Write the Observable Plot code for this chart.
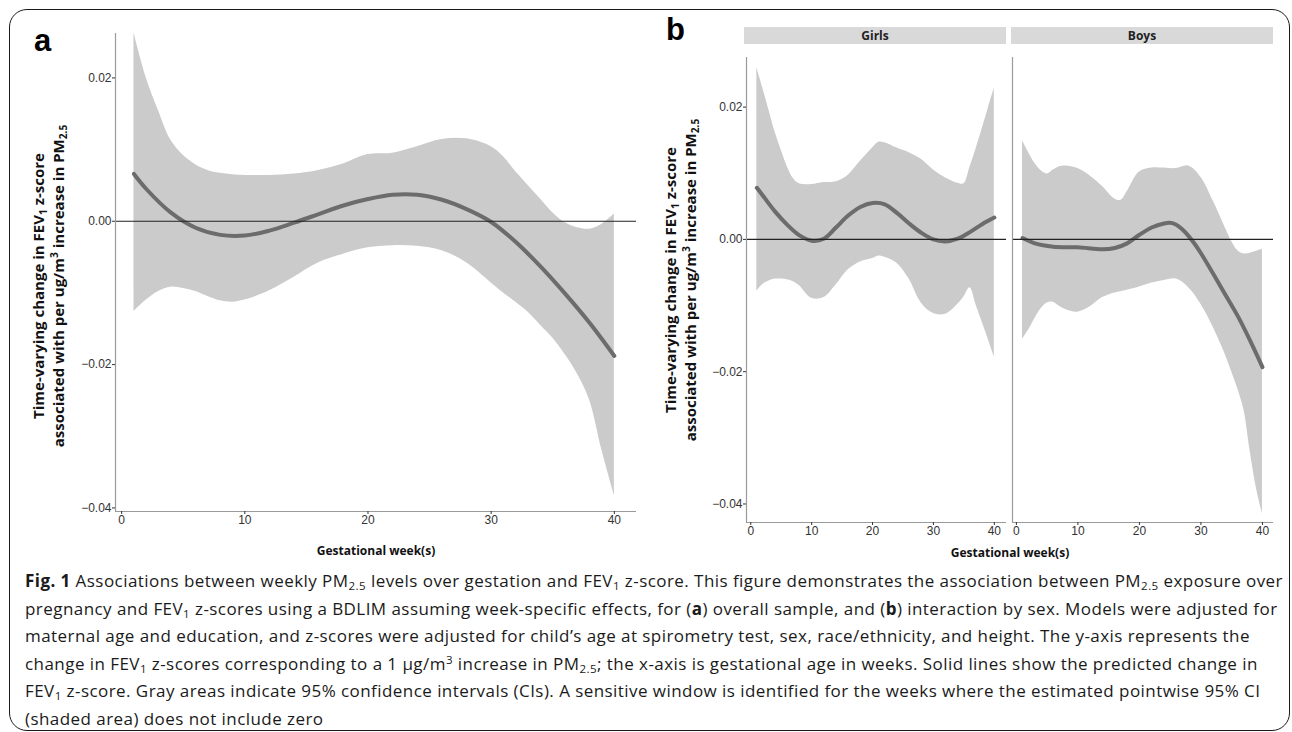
<!DOCTYPE html>
<html>
<head>
<meta charset="utf-8">
<script src="https://cdn.jsdelivr.net/npm/d3@7"></script>
<script src="https://cdn.jsdelivr.net/npm/@observablehq/plot@0.6"></script>
<style>
  body { margin: 0; background: #fff; }
  #root { position: relative; width: 1292px; height: 732px; overflow: hidden; background: #fff; font-family: "Open Sans", sans-serif; }
  .box { position: absolute; left: 9px; top: 9px; width: 1281px; height: 722px; border: 1.5px solid #1a1a1a; border-radius: 18px; box-sizing: border-box; }
  .plot { position: absolute; top: 0; }
  .plabel { position: absolute; font-family: "Liberation Sans", Arial, sans-serif; font-weight: bold; font-size: 31px; line-height: 31px; color: #000; }
  .ytitle { position: absolute; width: 460px; height: 40px; transform: rotate(-90deg); transform-origin: 50% 50%; white-space: nowrap; text-align: center; font-weight: bold; font-size: 15px; line-height: 20px; color: #111; }
  .xtitle { position: absolute; width: 300px; text-align: center; font-weight: bold; font-size: 12px; line-height: 16px; color: #111; }
  .strip { position: absolute; top: 27px; height: 17px; background: #d9d9d9; text-align: center; font-weight: bold; font-size: 12px; line-height: 17px; color: #222; }
  .caption { position: absolute; left: 25px; top: 567px; font-size: 17px; line-height: 27.5px; color: #1a1a1a; white-space: nowrap; }
  .caption div { white-space: nowrap; }
  sub, sup { font-size: 0.68em; line-height: 0; }
  sub { vertical-align: -0.3em; }
  sup { vertical-align: 0.55em; }
</style>
</head>
<body>
<div id="root">
  <div class="box"></div>
  <div class="plabel" style="left:34px;top:25px;">a</div>
  <div class="plabel" style="left:666px;top:14px;">b</div>
  <div id="pa" class="plot" style="left:0px;"></div>
  <div id="pg" class="plot" style="left:660px;"></div>
  <div id="pb" class="plot" style="left:1006px;"></div>
  <div class="strip" style="left:744px;width:262px;">Girls</div>
  <div class="strip" style="left:1011px;width:262px;">Boys</div>
  <div class="ytitle" style="left:-182px;top:266px;">Time-varying change in FEV<sub>1</sub> z-score<br>associated with per ug/m<sup>3</sup> increase in PM<sub>2.5</sub></div>
  <div class="ytitle" style="left:450px;top:260px;">Time-varying change in FEV<sub>1</sub> z-score<br>associated with per ug/m<sup>3</sup> increase in PM<sub>2.5</sub></div>
  <div class="xtitle" style="left:226px;top:543px;">Gestational week(s)</div>
  <div class="xtitle" style="left:860px;top:545px;">Gestational week(s)</div>
  <div class="caption" id="cap">
    <div id="cap1"><b>Fig. 1</b> Associations between weekly PM<sub>2.5</sub> levels over gestation and FEV<sub>1</sub> z-score. This figure demonstrates the association between PM<sub>2.5</sub> exposure over</div>
    <div>pregnancy and FEV<sub>1</sub> z-scores using a BDLIM assuming week-specific effects, for (<b>a</b>) overall sample, and (<b>b</b>) interaction by sex. Models were adjusted for</div>
    <div>maternal age and education, and z-scores were adjusted for child’s age at spirometry test, sex, race/ethnicity, and height. The y-axis represents the</div>
    <div>change in FEV<sub>1</sub> z-scores corresponding to a 1 μg/m<sup>3</sup> increase in PM<sub>2.5</sub>; the x-axis is gestational age in weeks. Solid lines show the predicted change in</div>
    <div>FEV<sub>1</sub> z-score. Gray areas indicate 95% confidence intervals (CIs). A sensitive window is identified for the weeks where the estimated pointwise 95% CI</div>
    <div>(shaded area) does not include zero</div>
  </div>
</div>
<script>
// ---------- Data ----------
const xTicks = [0, 10, 20, 30, 40];
const yTicks = [-0.04, -0.02, 0, 0.02];
const panelNames = ["Girls", "Boys"];

// Panel a: overall sample
const weeksBandA = [1,2,3,4,5,6,7,8,9,10,12,14,16,18,20,22,24,26,28,30,31,32,33,34,35,36,37,38,39,40];
const hiA = [0.0263,0.0200,0.0154,0.0113,0.0092,0.0079,0.0071,0.0067,0.0065,0.0064,0.0064,0.0066,0.0071,0.0080,0.0093,0.0095,0.0104,0.0114,0.0115,0.0104,0.0090,0.0069,0.0050,0.0031,0.0012,-0.0002,-0.0009,-0.0011,-0.0004,0.0010];
const loA = [-0.0126,-0.0110,-0.0098,-0.0092,-0.0094,-0.0098,-0.0105,-0.0111,-0.0113,-0.0110,-0.0097,-0.0078,-0.0058,-0.0046,-0.0037,-0.0034,-0.0035,-0.0041,-0.0058,-0.0086,-0.0100,-0.0113,-0.0127,-0.0145,-0.0163,-0.0186,-0.0213,-0.0250,-0.0320,-0.0383];
const weeksLineA = [1,2,4,6,8,10,12,14,16,18,20,22,24,26,28,30,32,34,36,38,40];
const estA = [0.0066,0.0045,0.0012,-0.0009,-0.0019,-0.0020,-0.0013,-0.0002,0.0010,0.0022,0.0031,0.0037,0.0037,0.0030,0.0017,-0.0001,-0.0029,-0.0063,-0.0101,-0.0142,-0.0188];

// Panel b: Girls
const weeksBandG = [1,2,3,4,5,6,7,8,10,12,14,16,18,20,21,22,24,26,28,30,32,34,35,36,37,38,39,40];
const hiG = [0.0260,0.0228,0.0195,0.0162,0.0135,0.0110,0.0092,0.0084,0.0083,0.0086,0.0087,0.0097,0.0118,0.0138,0.0147,0.0146,0.0138,0.0131,0.0121,0.0105,0.0093,0.0085,0.0084,0.0109,0.0137,0.0167,0.0198,0.0229];
const loG = [-0.0078,-0.0068,-0.0063,-0.0060,-0.0060,-0.0061,-0.0064,-0.0070,-0.0089,-0.0088,-0.0069,-0.0046,-0.0034,-0.0029,-0.0025,-0.0027,-0.0036,-0.0060,-0.0096,-0.0112,-0.0113,-0.0098,-0.0087,-0.0073,-0.0099,-0.0125,-0.0151,-0.0178];
const weeksLineG = [1,2,4,6,8,10,12,14,16,18,20,22,24,26,28,30,32,34,36,38,40];
const estG = [0.0078,0.0066,0.0042,0.0022,0.0006,-0.0002,0.0001,0.0018,0.0036,0.0049,0.0055,0.0053,0.0040,0.0024,0.0010,0.0000,-0.0003,0.0001,0.0011,0.0023,0.0033];

// Panel b: Boys
const weeksBandB = [1,2,3,4,5,6,7,8,10,12,14,16,17,18,20,22,24,26,28,30,32,34,35,36,37,38,39,40];
const hiB = [0.0149,0.0131,0.0115,0.0104,0.0099,0.0105,0.0110,0.0111,0.0107,0.0096,0.0080,0.0061,0.0059,0.0072,0.0102,0.0108,0.0108,0.0107,0.0111,0.0094,0.0058,0.0017,-0.0003,-0.0017,-0.0022,-0.0021,-0.0018,-0.0015];
const loB = [-0.0151,-0.0137,-0.0120,-0.0105,-0.0096,-0.0095,-0.0101,-0.0106,-0.0110,-0.0102,-0.0088,-0.0081,-0.0079,-0.0077,-0.0072,-0.0066,-0.0062,-0.0060,-0.0073,-0.0098,-0.0133,-0.0175,-0.0200,-0.0226,-0.0258,-0.0320,-0.0375,-0.0415];
const weeksLineB = [1,3,6,10,14,16,18,20,22,24,25,26,27,28,29,30,32,34,36,38,40];
const estB = [0.0002,-0.0006,-0.0011,-0.0012,-0.0015,-0.0013,-0.0006,0.0007,0.0018,0.0024,0.0025,0.0022,0.0015,0.0005,-0.0007,-0.0021,-0.0052,-0.0084,-0.0116,-0.0153,-0.0193];

// ---------- Build tables ----------
const band = (w, hi, lo) => w.map((week, i) => ({week, hi: hi[i], lo: lo[i]}));
const line = (w, est) => w.map((week, i) => ({week, est: est[i]}));

const fmt = d => d3.format(".2f")(d);
const BAND = "#cbcbcb", LINE = "#6c6c6c", AXIS = "#9a9a9a";

function panel({bandData, lineData, xDomain, yDomain, width, height, mL, mR, mT, mB, showY}) {
  return Plot.plot({
    width, height,
    marginLeft: mL, marginRight: mR, marginTop: mT, marginBottom: mB,
    style: {fontFamily: "'Liberation Sans', Arial, sans-serif", fontSize: "12px", background: "transparent", overflow: "visible"},
    x: {domain: xDomain, axis: null},
    y: {domain: yDomain, axis: null},
    marks: [
      Plot.areaY(bandData, {x: "week", y1: "lo", y2: "hi", fill: BAND, curve: "catmull-rom"}),
      Plot.line(lineData, {x: "week", y: "est", stroke: LINE, strokeWidth: 4, curve: "catmull-rom"}),
      Plot.ruleY([0], {stroke: "#222", strokeWidth: 1.2}),
      Plot.ruleX([xDomain[0]], {stroke: AXIS, strokeWidth: 1.2}),
      Plot.ruleY([yDomain[0]], {stroke: AXIS, strokeWidth: 1.2}),
      Plot.axisX({ticks: xTicks, tickSize: 3, tickPadding: 1, label: null, color: "#333", fontSize: 12, tickFormat: d3.format("d")}),
      showY ? Plot.axisY({ticks: yTicks, tickSize: 3, tickPadding: 1, label: null, color: "#333", fontSize: 12, tickFormat: fmt}) : null
    ]
  });
}

document.getElementById("pa").append(panel({
  bandData: band(weeksBandA, hiA, loA), lineData: line(weeksLineA, estA),
  xDomain: [-0.5, 41.8], yDomain: [-0.0405, 0.0262],
  width: 660, height: 550, mL: 115, mR: 24, mT: 33, mB: 39, showY: true
}));
document.getElementById("pg").append(panel({
  bandData: band(weeksBandG, hiG, loG), lineData: line(weeksLineG, estG),
  xDomain: [-0.7, 42], yDomain: [-0.0428, 0.0275],
  width: 346, height: 550, mL: 86, mR: 0, mT: 57, mB: 28, showY: true
}));
document.getElementById("pb").append(panel({
  bandData: band(weeksBandB, hiB, loB), lineData: line(weeksLineB, estB),
  xDomain: [-0.63, 41.8], yDomain: [-0.0428, 0.0275],
  width: 267, height: 550, mL: 6, mR: 0, mT: 57, mB: 28, showY: false
}));

// ---------- Fit caption width ----------
const cap1 = document.getElementById("cap1");
const target = 1258;
const w = cap1.getBoundingClientRect().width;
const n = cap1.textContent.length;
const ls = (target - w) / n;
document.getElementById("cap").style.letterSpacing = ls.toFixed(3) + "px";
</script>
</body>
</html>
